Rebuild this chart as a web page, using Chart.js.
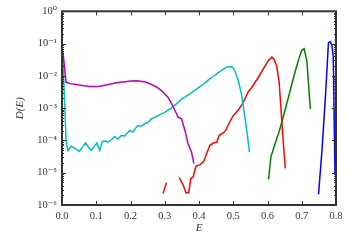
<!DOCTYPE html>
<html><head><meta charset="utf-8">
<script src="https://cdn.jsdelivr.net/npm/chart.js@4"></script>
<style>html,body{margin:0;padding:0;background:#fff}#w{width:350px;height:250px}</style>
</head><body><div id="w"><canvas id="c" width="350" height="250"></canvas></div>
<script>
const xTicks = ["0.0","0.1","0.2","0.3","0.4","0.5","0.6","0.7","0.8"];
const yTicks = ["10⁻⁶","10⁻⁵","10⁻⁴","10⁻³","10⁻²","10⁻¹","10⁰"];

const magentaE = [0.0,0.004,0.012,0.025,0.037,0.05,0.066,0.08,0.095,0.11,0.125,0.139,0.155,0.17,0.185,0.2,0.217,0.23,0.246,0.26,0.275,0.285,0.295,0.31,0.318,0.325,0.332,0.339,0.349,0.359,0.368,0.378,0.385];
const magentaD = [2.51e-2,4.17e-2,6.31e-3,5.75e-3,5.50e-3,5.25e-3,4.90e-3,4.68e-3,4.68e-3,4.79e-3,5.13e-3,5.50e-3,6.03e-3,6.31e-3,6.61e-3,6.92e-3,7.08e-3,6.76e-3,6.31e-3,5.50e-3,4.57e-3,3.89e-3,3.16e-3,2.14e-3,1.51e-3,1.07e-3,7.59e-4,5.25e-4,4.68e-4,2.04e-4,7.94e-5,4.37e-5,1.91e-5];

const cyanE = [0.003,0.012,0.017,0.027,0.039,0.051,0.060,0.069,0.08,0.085,0.093,0.102,0.11,0.118,0.126,0.134,0.144,0.154,0.163,0.173,0.183,0.19,0.198,0.207,0.215,0.222,0.23,0.237,0.244,0.251,0.261,0.271,0.281,0.29,0.30,0.315,0.325,0.334,0.349,0.36,0.373,0.393,0.412,0.425,0.437,0.456,0.47,0.481,0.49,0.498,0.505,0.515,0.525,0.534,0.541,0.547];
const cyanD = [2.88e-2,1.0e-4,4.90e-5,6.61e-5,5.62e-5,4.57e-5,6.31e-5,8.51e-5,5.62e-5,4.90e-5,6.31e-5,8.32e-5,4.90e-5,9.33e-5,9.55e-5,8.91e-5,1.05e-4,1.32e-4,1.10e-4,1.41e-4,1.38e-4,1.66e-4,2.04e-4,1.82e-4,2.40e-4,2.88e-4,2.75e-4,3.02e-4,3.39e-4,3.63e-4,4.68e-4,5.25e-4,5.89e-4,6.61e-4,7.41e-4,9.55e-4,1.12e-3,1.35e-3,1.91e-3,2.24e-3,2.75e-3,3.89e-3,5.50e-3,7.08e-3,8.91e-3,1.26e-2,1.58e-2,1.86e-2,1.95e-2,1.86e-2,1.41e-2,7.08e-3,2.40e-3,5.25e-4,1.58e-4,4.37e-5];

const redE = [0.295,0.305,0.32,0.342,0.354,0.362,0.37,0.376,0.383,0.391,0.403,0.414,0.424,0.432,0.442,0.452,0.459,0.471,0.478,0.488,0.5,0.515,0.529,0.544,0.554,0.573,0.593,0.603,0.613,0.619,0.627,0.634,0.639,0.645,0.652];
const redD = [2.29e-6,4.90e-6,null,7.08e-6,4.17e-6,2.40e-6,2.40e-6,6.61e-6,7.41e-6,1.58e-5,1.78e-5,2.24e-5,4.37e-5,7.08e-5,8.32e-5,8.91e-5,1.45e-4,1.70e-4,2.04e-4,3.47e-4,5.89e-4,8.71e-4,1.51e-3,3.24e-3,4.37e-3,8.91e-3,2.04e-2,3.02e-2,3.80e-2,3.24e-2,2.04e-2,6.31e-3,1.07e-3,1.26e-4,1.35e-5];

const greenE = [0.603,0.61,0.622,0.635,0.647,0.661,0.676,0.69,0.7,0.707,0.715,0.725];
const greenD = [6.17e-6,3.09e-5,7.94e-5,2.04e-4,5.89e-4,2.14e-3,8.91e-3,3.02e-2,6.17e-2,6.92e-2,2.88e-2,9.55e-4];

const blueE = [0.749,0.759,0.769,0.778,0.783,0.788,0.792,0.797];
const blueD = [2.14e-6,4.90e-5,2.14e-3,1.07e-1,1.15e-1,8.91e-2,3.98e-2,9.33e-6];

function pts(E, D){ return E.map((e,i)=>({x:e, y:D[i]})); }
function ds(E, D, color){ return {data:pts(E,D), borderColor:color, borderWidth:1.5, pointRadius:0, fill:false, tension:0, spanGaps:false}; }

const SERIF = "'Liberation Serif','DejaVu Serif',serif";

const framePlugin = {
  id:'frame',
  afterDatasetsDraw(chart){
    const ctx = chart.ctx, a = chart.chartArea, xs = chart.scales.x, ys = chart.scales.y;
    ctx.save();
    ctx.strokeStyle = '#333';
    ctx.lineWidth = 1;
    ctx.beginPath();
    xs.ticks.forEach(t=>{
      const p = Math.round(xs.getPixelForValue(t.value))+0.5;
      ctx.moveTo(p, a.bottom); ctx.lineTo(p, a.bottom-4);
      ctx.moveTo(p, a.top); ctx.lineTo(p, a.top+4);
    });
    for (let d=-6; d<=0; d++){
      for (let k=1; k<=9; k++){
        if (d===0 && k>1) break;
        const v = k*Math.pow(10,d);
        const p = Math.round(ys.getPixelForValue(v))+0.5;
        const L = k===1 ? 4 : 2;
        ctx.moveTo(a.left, p); ctx.lineTo(a.left+L, p);
        ctx.moveTo(a.right, p); ctx.lineTo(a.right-L, p);
      }
    }
    ctx.stroke();
    ctx.lineWidth = 2;
    ctx.strokeRect(a.left, a.top, a.right-a.left, a.bottom-a.top);
    ctx.restore();
  }
};

new Chart(document.getElementById('c'), {
  type:'line',
  data:{datasets:[
    ds(magentaE, magentaD, '#bf00bf'),
    ds(cyanE, cyanD, '#00bfbf'),
    ds(redE, redD, '#ff0000'),
    ds(greenE, greenD, '#008000'),
    ds(blueE, blueD, '#0000ff')
  ]},
  options:{
    responsive:false, animation:false, maintainAspectRatio:false,
    layout:{padding:{top:10, right:14, left:0, bottom:0}},
    plugins:{legend:{display:false}, tooltip:{enabled:false}},
    scales:{
      x:{type:'linear', min:0, max:0.8,
        afterFit(s){ s.height = 45; },
        grid:{display:false, drawTicks:false}, border:{display:false},
        ticks:{stepSize:0.1, padding:5, color:'#333', font:{family:SERIF, size:10.5},
          callback(v){ const i = Math.round(v*10); return xTicks[i]; }},
        title:{display:true, text:'E', color:'#333', font:{family:SERIF, size:11, style:'italic'}, padding:{top:0, bottom:15}}
      },
      y:{type:'logarithmic', min:1e-6, max:1,
        afterFit(s){ s.width = 62; },
        grid:{display:false, drawTicks:false}, border:{display:false},
        ticks:{autoSkip:false, padding:5, color:'#333', font:{family:SERIF, size:10.5},
          callback(v){ const l = Math.log10(v); const r = Math.round(l); if (Math.abs(l-r)<1e-9) return yTicks[r+6]; return ''; }},
        title:{display:true, text:'D(E)', color:'#333', font:{family:SERIF, size:11, style:'italic'}, padding:{top:14,bottom:0}}
      }
    }
  },
  plugins:[framePlugin]
});
</script></body></html>
